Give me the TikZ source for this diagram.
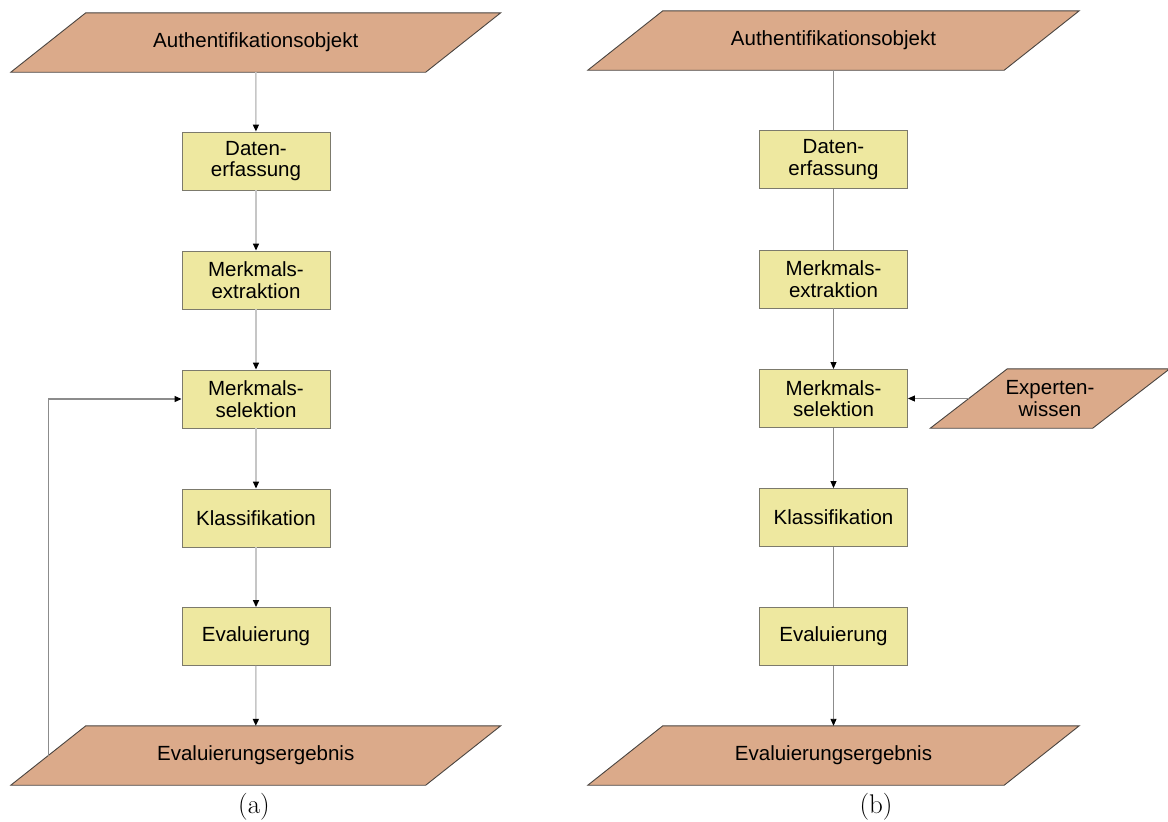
\documentclass[tikz,border=0pt]{standalone}
\usepackage{fontspec}
\newfontfamily\diagfont{Liberation Sans}
\usetikzlibrary{arrows.meta,backgrounds}

\definecolor{iofill}{HTML}{DBAA8A}
\definecolor{ioline}{HTML}{4A4440}
\definecolor{procfill}{HTML}{EEE8A0}
\definecolor{procline}{HTML}{7C7A6C}
\definecolor{flowlight}{HTML}{C6C6C6}
\definecolor{flowdark}{HTML}{8C8C8C}

% slanted input/output shape drawn around a named node
\newcommand\ioparallelogram[2]{%
  \filldraw[ioshape] ([xshift=#2]#1.north west) -- ([xshift=#2]#1.north east)
    -- ([xshift=-#2]#1.south east) -- ([xshift=-#2]#1.south west) -- cycle;}

\begin{document}
\begin{tikzpicture}[x=1pt,y=-1pt,
  txt/.style={font=\diagfont\fontsize{20.5pt}{21.5pt}\selectfont, align=center, text=black},
  proc/.style={txt, draw=procline, fill=procfill, line width=0.9pt,
    minimum width=148pt, minimum height=58pt, inner sep=0pt},
  io/.style={txt, minimum height=59pt, inner sep=0pt},
  ioshape/.style={fill=iofill, draw=ioline, line width=0.9pt},
  tip/.style={-{Triangle[length=7pt,width=6pt,color=black]}},
  flowA/.style={draw=flowlight, line width=1.5pt},
  flowB/.style={draw=flowdark, line width=0.9pt},
  back/.style={draw=flowdark, line width=1.1pt},
  caption/.style={font=\fontsize{27pt}{30pt}\selectfont}]

\useasboundingbox (0,0) rectangle (1168,822);

% ---- variant (a) ----
\node[io, minimum width=414.5pt] (authA) at (255.75,42.5) {Authentifikationsobjekt};
\node[proc] (datA) at (256,161) {Daten-\\erfassung};
\node[proc] (extA) at (256,280) {Merkmals-\\extraktion};
\node[proc] (selA) at (256,399) {Merkmals-\\selektion};
\node[proc] (klaA) at (256,518) {Klassifikation};
\node[proc] (evaA) at (256,636.5) {Evaluierung};
\node[io, minimum width=414.5pt] (resA) at (255.75,755.5) {Evaluierungsergebnis};
\node[caption] (capA) at (254,807) {(a)};

% ---- variant (b) ----
\node[io, minimum width=416pt] (authB) at (833.5,40.5) {Authentifikationsobjekt};
\node[proc] (datB) at (833.5,159.5) {Daten-\\erfassung};
\node[proc] (extB) at (833.5,279) {Merkmals-\\extraktion};
\node[proc] (selB) at (833.5,398.5) {Merkmals-\\selektion};
\node[proc] (klaB) at (833.5,517.5) {Klassifikation};
\node[proc] (evaB) at (833.5,636.5) {Evaluierung};
\node[io, minimum width=416pt] (resB) at (833.5,755.5) {Evaluierungsergebnis};
\node[io, minimum width=162pt] (expB) at (1050,398.5) {Experten-\\wissen};
\node[caption] (capB) at (876,807) {(b)};

\begin{scope}[on background layer]
  \ioparallelogram{authA}{37.5pt}
  \ioparallelogram{resA}{37.5pt}
  \ioparallelogram{authB}{37.5pt}
  \ioparallelogram{resB}{37.5pt}
  \ioparallelogram{expB}{38.5pt}
\end{scope}

% connectors (a)
\draw[flowA, tip] (authA) -- (datA);
\draw[flowA, tip] (datA) -- (extA);
\draw[flowA, tip] (extA) -- (selA);
\draw[flowA, tip] (selA) -- (klaA);
\draw[flowA, tip] (klaA) -- (evaA);
\draw[flowA, tip] (evaA) -- (resA);
\draw[back, tip] (resA.west) |- (selA.west);

% connectors (b)
\draw[flowB] (authB) -- (datB);
\draw[flowB] (datB) -- (extB);
\draw[flowB, tip] (extB) -- (selB);
\draw[flowB, tip] (selB) -- (klaB);
\draw[flowB] (klaB) -- (evaB);
\draw[flowB, tip] (evaB) -- (resB);
\draw[flowB, tip] (expB.west) -- (selB.east);
\end{tikzpicture}
\end{document}
